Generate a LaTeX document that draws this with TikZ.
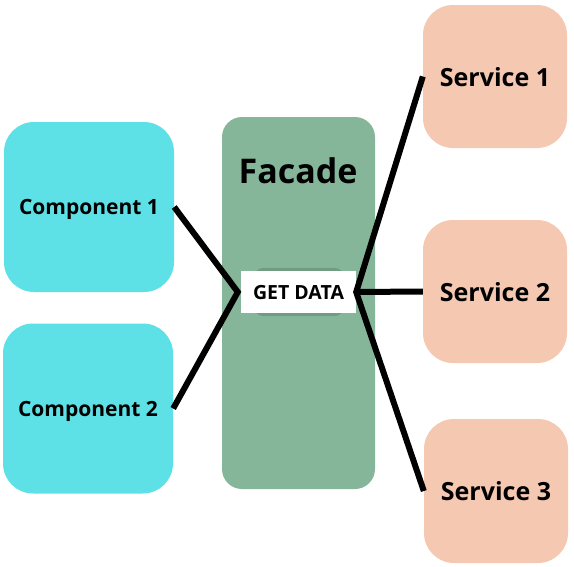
\documentclass[tikz,border=0pt]{standalone}
\usepackage{fontspec}
\setmainfont{Open Sans}
\begin{document}
\begin{tikzpicture}[x=1pt, y=-1pt, font=\bfseries, every node/.style={text depth=0pt}]

      % Colors: cyan, green, salmon
      \definecolor{compfill}{RGB}{94,225,230}
      \definecolor{facadefill}{RGB}{133,182,153}
      \definecolor{servfill}{RGB}{245,200,177}

      % line thickness of the links
      \def\mylink{6pt}

      \useasboundingbox (0,0) rectangle (574,566);

      % --- Facade panel ---
      \node[fill=facadefill, rounded corners=20pt, minimum width=153pt, minimum height=372pt, inner sep=0pt] (facade) at (298.5,303) {};
      \node[font=\bfseries\fontsize{34}{40}\selectfont] (facadetitle) at (298,171) {Facade};

      % shadow under the GET DATA box
      \fill[facadefill!85!black, rounded corners=8pt] (255,268) rectangle (343,316);
      \node[fill=white, minimum width=115pt, minimum height=42pt, inner sep=0pt, font=\bfseries\fontsize{19.5}{23}\selectfont] (get) at (298.5,292) {GET DATA};

      % --- Left: components ---
      \node[fill=compfill, rounded corners=30pt, minimum width=170pt, minimum height=170pt, inner sep=0pt, font=\bfseries\fontsize{21}{25}\selectfont] (comp1) at (89,207) {Component 1};
      \node[fill=compfill, rounded corners=30pt, minimum width=170pt, minimum height=170pt, inner sep=0pt, font=\bfseries\fontsize{21}{25}\selectfont] (comp2) at (88,408.5) {Component 2};

      % --- Right: services ---
      \node[fill=servfill, rounded corners=30pt, minimum width=144pt, minimum height=143pt, inner sep=0pt, font=\bfseries\fontsize{25}{30}\selectfont] (serv1) at (495,76.5) {Service 1};
      \node[fill=servfill, rounded corners=30pt, minimum width=144pt, minimum height=143pt, inner sep=0pt, font=\bfseries\fontsize{25}{30}\selectfont] (serv2) at (495,291.5) {Service 2};
      \node[fill=servfill, rounded corners=30pt, minimum width=144pt, minimum height=144pt, inner sep=0pt, font=\bfseries\fontsize{25}{30}\selectfont] (serv3) at (496,491) {Service 3};

      % links into the facade
      \draw[line width=\mylink] (comp1.east) -- ([xshift=-3pt]get.west) -- (comp2.east);

      % links out of the facade
      \draw[line width=\mylink] (serv1.west) -- (get.east) -- (serv3.west);
      \draw[line width=\mylink] (get.east) -- (serv2.west);

    \end{tikzpicture}
\end{document}
